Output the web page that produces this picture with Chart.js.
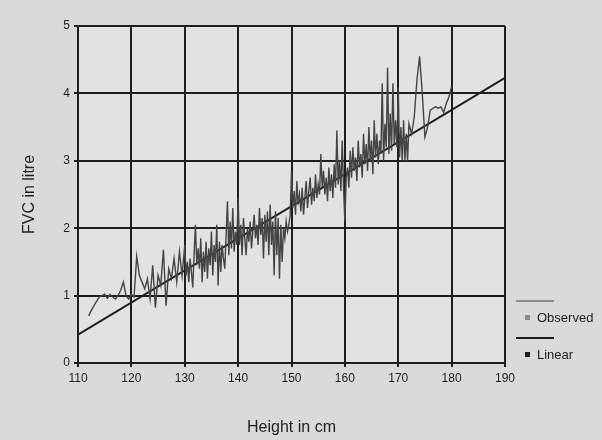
<!DOCTYPE html>
<html>
<head>
<meta charset="utf-8">
<title>FVC vs height</title>
<script src="https://cdn.jsdelivr.net/npm/chart.js@4/dist/chart.umd.min.js"></script>
<style>
  html, body { margin: 0; padding: 0; background: #dadada; }
  #wrap { width: 602px; height: 440px; }
</style>
</head>
<body>
<div id="wrap"><canvas id="fvc" width="602" height="440"></canvas></div>
<script>
// ── data ────────────────────────────────────────────────
const heights = [
  112, 112.5, 113, 113.5, 114, 114.5, 115, 115.5, 116, 116.5,
  117, 117.5, 118, 118.5, 119, 119.5, 120, 120.5, 121, 121.5,
  122, 122.5, 123, 123.5, 124, 124.5, 125, 125.5, 126, 126.5,
  127, 127.5, 128, 128.5, 129, 129.5,
  130, 130.25, 130.5, 130.75, 131, 131.25, 131.5, 131.75,
  132, 132.25, 132.5, 132.75, 133, 133.25, 133.5, 133.75,
  134, 134.25, 134.5, 134.75, 135, 135.25, 135.5, 135.75,
  136, 136.25, 136.5, 136.75, 137, 137.25, 137.5, 137.75,
  138, 138.25, 138.5, 138.75, 139, 139.25, 139.5, 139.75,
  140, 140.25, 140.5, 140.75, 141, 141.25, 141.5, 141.75,
  142, 142.25, 142.5, 142.75, 143, 143.25, 143.5, 143.75,
  144, 144.25, 144.5, 144.75, 145, 145.25, 145.5, 145.75,
  146, 146.25, 146.5, 146.75, 147, 147.25, 147.5, 147.75,
  148, 148.25, 148.5, 148.75, 149, 149.25, 149.5, 149.75,
  150, 150.25, 150.5, 150.75, 151, 151.25, 151.5, 151.75,
  152, 152.25, 152.5, 152.75, 153, 153.25, 153.5, 153.75,
  154, 154.25, 154.5, 154.75, 155, 155.25, 155.5, 155.75,
  156, 156.25, 156.5, 156.75, 157, 157.25, 157.5, 157.75,
  158, 158.25, 158.5, 158.75, 159, 159.25, 159.5, 159.75,
  160, 160.25, 160.5, 160.75, 161, 161.25, 161.5, 161.75,
  162, 162.25, 162.5, 162.75, 163, 163.25, 163.5, 163.75,
  164, 164.25, 164.5, 164.75, 165, 165.25, 165.5, 165.75,
  166, 166.25, 166.5, 166.75, 167, 167.25, 167.5, 167.75,
  168, 168.25, 168.5, 168.75, 169, 169.25, 169.5, 169.75,
  170, 170.25, 170.5, 170.75, 171, 171.25, 171.5, 171.75,
  172, 172.5, 173, 173.5, 174, 174.5, 175, 175.5, 176, 176.5,
  177, 177.5, 178, 178.5, 179, 179.5, 180
];
const fvcObserved = [
  0.70, 0.78, 0.85, 0.92, 0.98, 1.00, 1.02, 0.96, 1.02, 0.98,
  0.95, 1.00, 1.08, 1.20, 1.00, 0.95, 1.02, 0.98, 1.58, 1.30,
  1.20, 1.10, 1.25, 0.95, 1.45, 0.82, 1.30, 1.15, 1.68, 0.85,
  1.40, 1.25, 1.55, 1.20, 1.65, 1.30,
  1.75, 1.30, 1.50, 1.20, 1.55, 1.35, 1.12, 1.60,
  2.05, 1.45, 1.70, 1.40, 1.85, 1.20, 1.65, 1.35,
  1.80, 1.25, 1.70, 1.45, 1.95, 1.30, 1.75, 1.50,
  2.05, 1.15, 1.80, 1.35, 1.75, 1.55, 1.40, 1.90,
  2.40, 1.60, 2.10, 1.70, 2.30, 1.65, 1.95, 1.75,
  2.45, 1.75, 2.05, 1.60, 2.15, 1.85, 1.60, 2.00,
  1.80, 2.10, 1.70, 1.95, 2.20, 1.85, 2.05, 1.75,
  2.30, 1.90, 2.15, 1.55, 2.20, 1.80, 2.25, 1.60,
  2.35, 1.75, 2.10, 1.30, 2.25, 1.60, 2.15, 1.25,
  2.05, 1.50, 2.00, 1.85, 2.10, 1.95, 2.05, 2.20,
  2.85, 2.30, 2.55, 2.20, 2.70, 2.35, 2.50, 2.25,
  2.60, 2.20, 2.45, 2.70, 2.30, 2.55, 2.75, 2.35,
  2.60, 2.40, 2.80, 2.45, 2.65, 2.50, 3.10, 2.60,
  2.85, 2.50, 2.75, 2.40, 2.90, 2.55, 2.80, 2.45,
  2.95, 2.60, 3.45, 2.65, 3.00, 2.55, 3.30, 2.60,
  2.10, 2.75, 2.90, 2.60, 3.15, 2.75, 3.20, 2.85,
  3.05, 2.70, 3.30, 2.90, 3.10, 2.75, 3.40, 2.95,
  3.25, 2.85, 3.50, 3.00, 3.30, 2.80, 3.60, 3.05,
  3.40, 2.95, 3.30, 3.10, 4.15, 3.00, 3.55, 3.20,
  4.38, 3.10, 3.70, 3.15, 4.15, 3.25, 3.60, 3.20,
  4.10, 3.05, 3.50, 3.00, 3.60, 3.00, 3.40, 3.00,
  3.55, 3.40, 3.65, 4.20, 4.55, 4.00, 3.35, 3.50, 3.75, 3.78,
  3.80, 3.78, 3.80, 3.72, 3.85, 3.95, 4.10
];
const linearX = [110, 190];
const linearY = [0.42, 4.23];

const xTicks = [110, 120, 130, 140, 150, 160, 170, 180, 190];
const yTicks = [0, 1, 2, 3, 4, 5];

const INK = '#1e1e1e';
const OBS_COL = '#444444';
const FONT = '"Liberation Sans", Arial, sans-serif';

// plot background + side legend
const paperPlugin = {
  id: 'paper',
  beforeDraw(chart) {
    const { ctx, chartArea: a } = chart;
    ctx.save();
    ctx.fillStyle = '#e2e2e2';
    ctx.fillRect(a.left, a.top, a.right - a.left, a.bottom - a.top);
    ctx.restore();
  },
  afterDraw(chart) {
    const { ctx, chartArea: a } = chart;
    const x0 = a.right + 11;
    const rows = [
      { y: a.bottom - 45, label: 'Observed', col: '#8a8a8a' },
      { y: a.bottom - 8, label: 'Linear', col: INK }
    ];
    ctx.save();
    ctx.font = '13px ' + FONT;
    ctx.textBaseline = 'middle';
    rows.forEach(r => {
      ctx.strokeStyle = r.col;
      ctx.lineWidth = 2;
      ctx.beginPath();
      ctx.moveTo(x0, r.y - 17);
      ctx.lineTo(x0 + 38, r.y - 17);
      ctx.stroke();
      ctx.fillStyle = r.col;
      ctx.fillRect(x0 + 9, r.y - 3, 5, 5);
      ctx.fillStyle = INK;
      ctx.fillText(r.label, x0 + 21, r.y);
    });
    ctx.restore();
  }
};

new Chart(document.getElementById('fvc'), {
  type: 'line',
  data: {
    datasets: [
      {
        label: 'Observed',
        data: heights.map((h, i) => ({ x: h, y: fvcObserved[i] })),
        borderColor: OBS_COL,
        borderWidth: 1.4,
        pointRadius: 0,
        tension: 0
      },
      {
        label: 'Linear',
        data: linearX.map((h, i) => ({ x: h, y: linearY[i] })),
        borderColor: INK,
        borderWidth: 2,
        pointRadius: 0,
        tension: 0
      }
    ]
  },
  options: {
    responsive: false,
    animation: false,
    layout: { padding: { top: 26, right: 97, bottom: 0, left: 0 } },
    plugins: { legend: { display: false }, tooltip: { enabled: false } },
    scales: {
      x: {
        type: 'linear',
        min: 110, max: 190,
        afterBuildTicks: s => { s.ticks = xTicks.map(v => ({ value: v })); },
        afterFit: s => { s.height = 77; },
        ticks: { color: INK, font: { size: 12, family: FONT }, padding: 4, maxRotation: 0 },
        grid: { color: INK, lineWidth: 2, tickLength: 4 },
        border: { color: INK, width: 2 },
        title: {
          display: true, text: 'Height in cm', color: INK,
          font: { size: 16, family: FONT },
          padding: { top: 0, bottom: 3 }
        }
      },
      y: {
        min: 0, max: 5,
        afterBuildTicks: s => { s.ticks = yTicks.map(v => ({ value: v })); },
        afterFit: s => { s.width = 78; },
        ticks: { color: INK, font: { size: 12, family: FONT }, padding: 4 },
        grid: { color: INK, lineWidth: 2, tickLength: 4 },
        border: { color: INK, width: 2 },
        title: {
          display: true, text: 'FVC in litre', color: INK,
          font: { size: 16, family: FONT },
          padding: { top: 20, bottom: 0 }
        }
      }
    }
  },
  plugins: [paperPlugin]
});
</script>
</body>
</html>
